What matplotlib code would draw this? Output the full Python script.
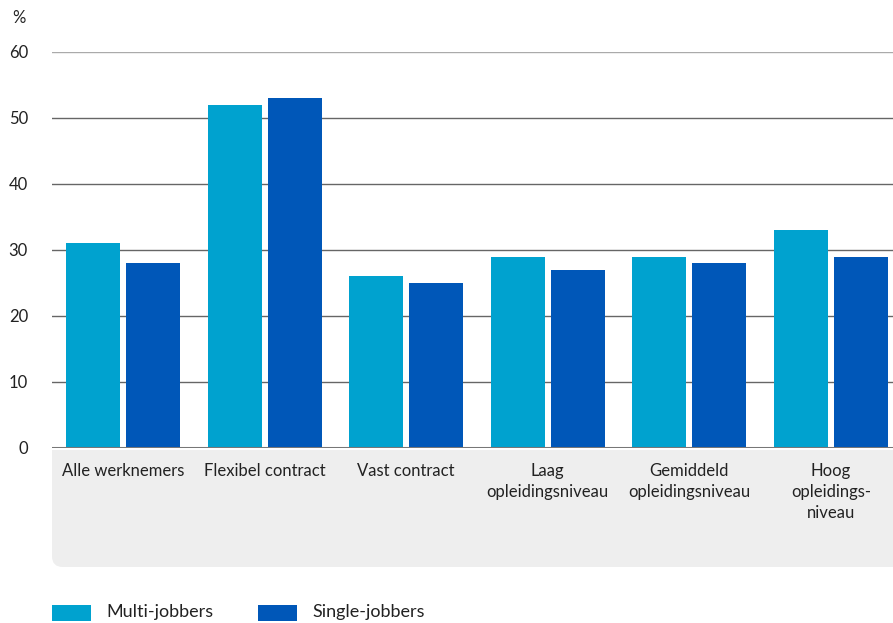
import matplotlib.pyplot as plt
import numpy as np
from matplotlib.patches import FancyBboxPatch, Rectangle

plt.rcParams['font.family'] = ['Lato', 'DejaVu Sans']

categories = ['Alle werknemers', 'Flexibel contract', 'Vast contract',
              'Laag\nopleidingsniveau', 'Gemiddeld\nopleidingsniveau',
              'Hoog\nopleidings-\nniveau']
multi = [31, 52, 26, 29, 29, 33]
single = [28, 53, 25, 27, 28, 29]
series_names = ['Multi-jobbers', 'Single-jobbers']
colors = ['#00a2cf', '#0057b8']

W, H = 893, 623
fig = plt.figure(figsize=(W / 100, H / 100), dpi=100)

# axes in pixel terms: left 52, top 52, baseline at 448
ax = fig.add_axes([52 / W, 1 - 448 / H, (W - 52) / W, (448 - 52) / H])

x = np.arange(len(categories))
bw = 0.381
off = 0.212
ax.bar(x - off, multi, bw, color=colors[0], zorder=3)
ax.bar(x + off, single, bw, color=colors[1], zorder=3)

ax.set_xlim(-0.501, 5.438)
ax.set_ylim(0, 60)
for s in ax.spines.values():
    s.set_visible(False)
ax.set_xticks([])
ax.set_yticks([])

for v in range(10, 61, 10):
    ax.axhline(v, color='#aaaaaa' if v == 60 else '#666666', lw=1.0, zorder=1)
ax.axhline(0, color='#777777', lw=2.2, zorder=4)

for v in range(0, 61, 10):
    fig.text(28 / W, 1 - (449 - v * 6.6) / H, str(v), ha='right', va='center',
             fontsize=12, color='#222222')
fig.text(12 / W, 1 - 18 / H, '%', ha='left', va='center', fontsize=12,
         color='#222222')

# gray label panel under the bars, rounded bottom corners
panel = FancyBboxPatch((52 / W, 1 - 567 / H), (W - 52) / W, (567 - 450) / H,
                       boxstyle='round,pad=0,rounding_size=0.012',
                       mutation_aspect=W / H,
                       transform=fig.transFigure, facecolor='#eeeeee',
                       edgecolor='none', zorder=0)
fig.patches.append(panel)
fig.patches.append(Rectangle((52 / W, 1 - 480 / H), (W - 52) / W, 30 / H,
                             transform=fig.transFigure, facecolor='#eeeeee',
                             edgecolor='none', zorder=0))
fig.patches.append(Rectangle((860 / W, 1 - 567 / H), 33 / W, 117 / H,
                             transform=fig.transFigure, facecolor='#eeeeee',
                             edgecolor='none', zorder=0))

for i, lab in enumerate(categories):
    xp = ax.transData.transform((i, 0))[0] / W
    fig.text(xp, 1 - 463 / H, lab, ha='center', va='top', fontsize=12,
             color='#222222', linespacing=1.4)

# legend
for xs, xt, name, c in [(52, 106, series_names[0], colors[0]),
                        (258, 312, series_names[1], colors[1])]:
    fig.patches.append(Rectangle((xs / W, 1 - 621 / H), 39 / W, 16 / H,
                                 transform=fig.transFigure, facecolor=c,
                                 edgecolor='none'))
    fig.text(xt / W, 1 - 612 / H, name, ha='left', va='center', fontsize=13,
             color='#222222')

fig.savefig('out.png', dpi=100)
